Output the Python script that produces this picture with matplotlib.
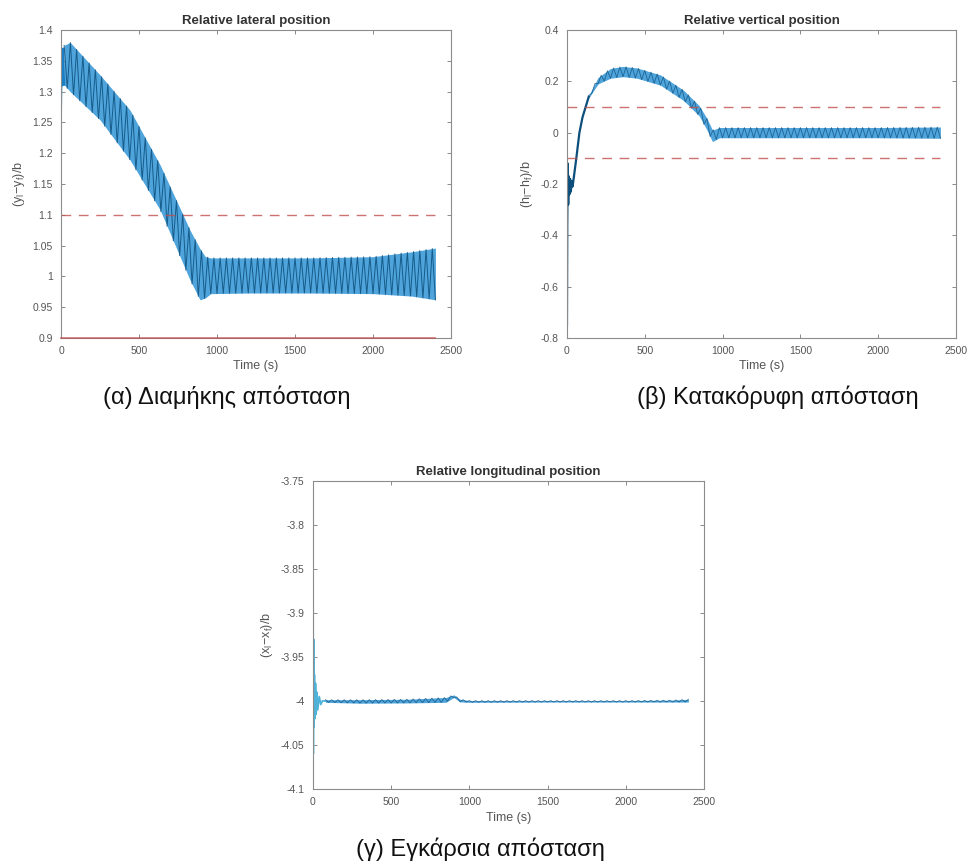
import numpy as np
import matplotlib
matplotlib.use("Agg")
import matplotlib.pyplot as plt

plt.rcParams['font.family'] = ['Liberation Sans', 'DejaVu Sans']
plt.rcParams['mathtext.fontset'] = 'custom'
plt.rcParams['mathtext.rm'] = 'Liberation Sans'
plt.rcParams['mathtext.it'] = 'Liberation Sans'

# ---- data -----------------------------------------------------------
# oscillation half-period used to trace the fast oscillation between its envelopes (s)
PERIOD = 40.0
T_END = 2400.0

# lateral position: envelope of the oscillating response
lat_t = [20, 58, 250, 442, 635, 827, 891, 925, 960, 1200, 1600, 2000, 2250, 2400]
lat_upper = [1.375, 1.380, 1.327, 1.270, 1.181, 1.075, 1.045, 1.032, 1.030, 1.030, 1.030, 1.032, 1.040, 1.046]
lat_lower = [1.311, 1.300, 1.254, 1.189, 1.108, 0.994, 0.962, 0.965, 0.972, 0.973, 0.973, 0.972, 0.968, 0.962]
lat_start_t = [0, 3, 8, 14, 20]
lat_start_v = [1.27, 1.33, 1.31, 1.37, 1.311]
lat_bounds = [1.1]
lat_floor = 0.9

# vertical position
ver_start_t = [0, 2, 5, 8, 12, 16, 20, 25, 30, 36, 45, 60, 80, 100, 120, 140]
ver_start_v = [-0.75, -0.35, -0.12, -0.28, -0.17, -0.24, -0.18, -0.23, -0.19, -0.21, -0.17, -0.10, 0.0, 0.06, 0.10, 0.14]
ver_t = [140, 200, 280, 360, 450, 600, 750, 850, 900, 935, 980, 1500, 2000, 2400]
ver_upper = [0.145, 0.215, 0.250, 0.258, 0.252, 0.225, 0.165, 0.105, 0.055, 0.010, 0.020, 0.020, 0.020, 0.022]
ver_lower = [0.135, 0.190, 0.212, 0.218, 0.212, 0.185, 0.125, 0.065, 0.010, -0.035, -0.020, -0.020, -0.020, -0.022]
ver_bounds = [0.1, -0.1]

# longitudinal position
lon_start_t = [0, 2, 4, 6, 9, 12, 16, 20, 25, 30, 40, 50, 60, 80]
lon_start_v = [-3.75, -4.06, -3.93, -4.03, -3.97, -4.02, -3.98, -4.015, -3.99, -4.01, -3.995, -4.004, -4.0, -4.0]
lon_t = [80, 300, 600, 850, 900, 940, 1000, 1500, 2000, 2300, 2400]
lon_upper = [-3.9985, -3.9985, -3.998, -3.996, -3.993, -3.998, -3.9995, -3.9995, -3.9995, -3.999, -3.998]
lon_lower = [-4.0015, -4.0025, -4.0022, -4.0015, -3.996, -4.001, -4.0015, -4.0012, -4.0012, -4.0012, -4.0012]

x_ticks = [0, 500, 1000, 1500, 2000, 2500]
lat_yticks = [0.9, 0.95, 1, 1.05, 1.1, 1.15, 1.2, 1.25, 1.3, 1.35, 1.4]
ver_yticks = [-0.8, -0.6, -0.4, -0.2, 0, 0.2, 0.4]
lon_yticks = [-4.1, -4.05, -4, -3.95, -3.9, -3.85, -3.8, -3.75]

titles = ["Relative lateral position", "Relative vertical position", "Relative longitudinal position"]
ylabels = [r"$\mathregular{(y_l\!-\!y_f)/b}$", r"$\mathregular{(h_l\!-\!h_f)/b}$", r"$\mathregular{(x_l\!-\!x_f)/b}$"]
captions = ["(α) Διαμήκης απόσταση", "(β) Κατακόρυφη απόσταση", "(γ) Εγκάρσια απόσταση"]

LINE = '#1a7fc4'
BAND = '#3b9ad8'
DARK = '#0d4f7c'
REF = '#c0504d'
DASH = (0, (7, 5.5))


def trace(knot_t, upper, lower, t0, t1):
    """Alternate between upper and lower envelope every half period."""
    t = np.arange(t0, t1 + 1e-9, PERIOD / 2)
    up = np.interp(t, knot_t, upper)
    lo = np.interp(t, knot_t, lower)
    v = np.where(np.arange(t.size) % 2 == 0, up, lo)
    return t, v


def style(ax, yticks, title, ylabel):
    ax.set_xlim(0, 2500)
    ax.set_ylim(yticks[0], yticks[-1])
    ax.set_xticks(x_ticks)
    ax.set_yticks(yticks)
    ax.set_yticklabels([f"{v:g}" for v in yticks])
    ax.tick_params(direction='in', length=3, width=0.6, colors='#777777',
                   labelcolor='#555555', labelsize=7.5, top=True, right=True)
    ax.tick_params(axis='x', pad=6)
    ax.tick_params(axis='y', pad=6)
    for s in ax.spines.values():
        s.set_color('#8c8c8c')
        s.set_linewidth(0.8)
    ax.set_title(title, fontsize=9.5, fontweight='bold', color='#333333', pad=4)
    ax.set_xlabel("Time (s)", fontsize=9, color='#555555', labelpad=3)
    ax.set_ylabel(ylabel, fontsize=9, color='#555555', labelpad=4)


fig = plt.figure(figsize=(9.72, 8.66), dpi=100)
ax1 = fig.add_axes([0.0628, 0.6097, 0.4012, 0.3557])
ax2 = fig.add_axes([0.5833, 0.6097, 0.4002, 0.3557])
ax3 = fig.add_axes([0.3220, 0.0889, 0.4023, 0.3557])

# (a) lateral
ax1.plot(lat_start_t, lat_start_v, color=LINE, lw=1.4)
ax1.fill_between(lat_t, lat_lower, lat_upper, color=BAND, lw=0, alpha=0.9)
t, v = trace(lat_t, lat_upper, lat_lower, lat_t[0], T_END)
ax1.plot(t, v, color=DARK, lw=0.7, alpha=0.85)
for b in lat_bounds:
    ax1.plot([0, T_END], [b, b], color=REF, lw=1.0, ls=DASH, alpha=0.8)
ax1.plot([0, T_END], [lat_floor, lat_floor], color=REF, lw=1.3, alpha=0.7,
         clip_on=False, zorder=4)
style(ax1, lat_yticks, titles[0], ylabels[0])

# (b) vertical
ax2.plot(ver_start_t, ver_start_v, color=DARK, lw=1.6)
ax2.fill_between(ver_t, ver_lower, ver_upper, color=BAND, lw=0, alpha=0.9)
t, v = trace(ver_t, ver_upper, ver_lower, ver_t[0], T_END)
ax2.plot(t, v, color=DARK, lw=0.6, alpha=0.75)
for b in ver_bounds:
    ax2.plot([0, T_END], [b, b], color=REF, lw=1.0, ls=DASH, alpha=0.8)
style(ax2, ver_yticks, titles[1], ylabels[1])

# (c) longitudinal
ax3.plot(lon_start_t, lon_start_v, color='#4fb3d9', lw=1.3)
ax3.fill_between(lon_t, lon_lower, lon_upper, color=BAND, lw=0, alpha=0.9)
t, v = trace(lon_t, lon_upper, lon_lower, lon_t[0], T_END)
ax3.plot(t, v, color=DARK, lw=0.6, alpha=0.75)
style(ax3, lon_yticks, titles[2], ylabels[2])

# sub-figure captions
fig.text(227 / 972, 1 - 397 / 866, captions[0], ha='center', va='center', fontsize=17, color='#111111')
fig.text(778 / 972, 1 - 397 / 866, captions[1], ha='center', va='center', fontsize=17, color='#111111')
fig.text(480 / 972, 1 - 849 / 866, captions[2], ha='center', va='center', fontsize=17, color='#111111')

fig.savefig("out.png", dpi=100)
